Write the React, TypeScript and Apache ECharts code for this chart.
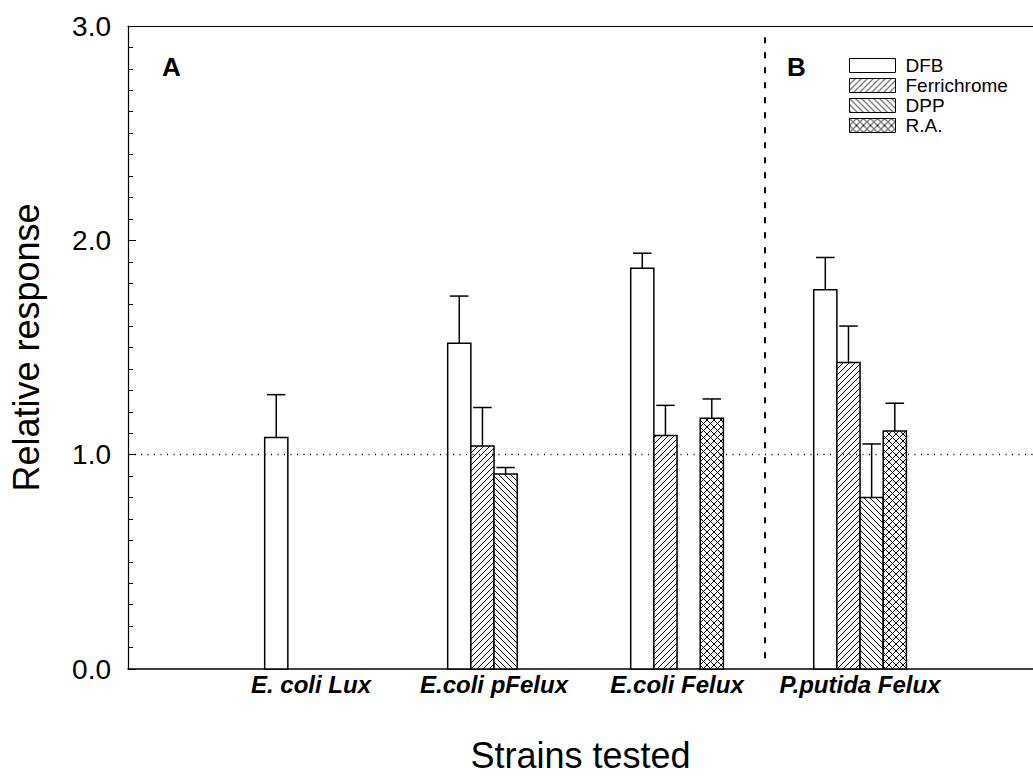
import React, { useEffect, useRef } from "react";
import * as echarts from "echarts";

const categories = ["E. coli Lux", "E.coli pFelux", "E.coli Felux", "P.putida Felux"];
const categoryPositions = [1, 2, 3, 4];
const seriesNames = ["DFB", "Ferrichrome", "DPP", "R.A."];

const dfbValues = [1.08, 1.52, 1.87, 1.77];
const dfbErrors = [0.2, 0.22, 0.07, 0.15];
const ferrichromeValues = [null, 1.04, 1.09, 1.43];
const ferrichromeErrors = [null, 0.18, 0.14, 0.17];
const dppValues = [null, 0.91, null, 0.8];
const dppErrors = [null, 0.03, null, 0.25];
const raValues = [null, null, 1.17, 1.11];
const raErrors = [null, null, 0.09, 0.13];

const yTicks = [0, 1, 2, 3];
const referenceLevel = 1.0;
const sectionDivider = 3.48;
const dividerRange = [0.05, 2.96];

const X_MAX = 4.945;
const BAR_UNIT = 0.1266;

function makePattern(kind: string) {
  const s = kind === "cross" ? 7 : 6;
  const c = document.createElement("canvas");
  c.width = s;
  c.height = s;
  const ctx = c.getContext("2d")!;
  ctx.fillStyle = "#fff";
  ctx.fillRect(0, 0, s, s);
  ctx.strokeStyle = "#000";
  ctx.lineWidth = 1;
  const fwd = () => {
    ctx.beginPath();
    ctx.moveTo(0, s);
    ctx.lineTo(s, 0);
    ctx.moveTo(-1, 1);
    ctx.lineTo(1, -1);
    ctx.moveTo(s - 1, s + 1);
    ctx.lineTo(s + 1, s - 1);
    ctx.stroke();
  };
  const back = () => {
    ctx.beginPath();
    ctx.moveTo(0, 0);
    ctx.lineTo(s, s);
    ctx.moveTo(-1, s - 1);
    ctx.lineTo(1, s + 1);
    ctx.moveTo(s - 1, -1);
    ctx.lineTo(s + 1, 1);
    ctx.stroke();
  };
  if (kind === "fwd") fwd();
  if (kind === "back") back();
  if (kind === "cross") {
    fwd();
    back();
  }
  return { image: c, repeat: "repeat" as const };
}

export default function App() {
  const ref = useRef<HTMLDivElement>(null);
  useEffect(() => {
    if (!ref.current) return;
    const chart = echarts.init(ref.current, undefined, { renderer: "svg" });
    const fills: any[] = ["#fff", makePattern("fwd"), makePattern("back"), makePattern("cross")];
    const valueSets = [dfbValues, ferrichromeValues, dppValues, raValues];
    const errorSets = [dfbErrors, ferrichromeErrors, dppErrors, raErrors];

    const series: any[] = seriesNames.map((name, slot) => {
      const data: any[] = [];
      valueSets[slot].forEach((v, i) => {
        if (v == null) return;
        data.push([categoryPositions[i], v, errorSets[slot][i] ?? 0, slot]);
      });
      const fill = fills[slot];
      return {
        name,
        type: "custom",
        coordinateSystem: "cartesian2d",
        itemStyle: { color: fill, borderColor: "#000", borderWidth: 1 },
        encode: { x: 0, y: 1 },
        data,
        renderItem: (params: any, api: any) => {
          const x = api.value(0);
          const v = api.value(1);
          const e = api.value(2);
          const sl = api.value(3);
          const base = api.coord([x, 0]);
          const top = api.coord([x, v]);
          const et = api.coord([x, v + e]);
          const bw = api.size([BAR_UNIT, 0])[0];
          const cx = base[0] + (sl - 1.5) * bw;
          const capW = bw * 0.8;
          return {
            type: "group",
            children: [
              {
                type: "rect",
                shape: { x: cx - bw / 2, y: top[1], width: bw, height: base[1] - top[1] },
                style: { fill, stroke: "#000", lineWidth: 1.5 },
              },
              {
                type: "line",
                shape: { x1: cx, y1: top[1], x2: cx, y2: et[1] },
                style: { stroke: "#000", lineWidth: 1.5 },
              },
              {
                type: "line",
                shape: { x1: cx - capW / 2, y1: et[1], x2: cx + capW / 2, y2: et[1] },
                style: { stroke: "#000", lineWidth: 1.5 },
              },
            ],
          };
        },
      };
    });

    series.push({
      name: "ref",
      type: "line",
      data: [],
      silent: true,
      markLine: {
        symbol: "none",
        silent: true,
        label: { show: false },
        data: [
          [
            { coord: [0, referenceLevel], lineStyle: { type: [1, 5.5], color: "#000", width: 1.3 } },
            { coord: [X_MAX, referenceLevel] },
          ],
          [
            { coord: [sectionDivider, dividerRange[0]], lineStyle: { type: [6, 9], color: "#000", width: 2 } },
            { coord: [sectionDivider, dividerRange[1]] },
          ],
        ],
      },
    });

    chart.setOption({
      animation: false,
      backgroundColor: "#fff",
      grid: { left: 127, right: 0, top: 26, bottom: 109 },
      legend: {
        data: seriesNames,
        orient: "vertical",
        left: 849,
        top: 56,
        padding: 0,
        itemWidth: 46,
        itemHeight: 14,
        itemGap: 1,
        icon: "rect",
        itemStyle: { borderColor: "#000", borderWidth: 1 },
        textStyle: { fontFamily: "Liberation Sans", fontSize: 19, color: "#000", padding: [0, 0, 0, 5] },
        selectedMode: false,
      },
      xAxis: [
        {
          type: "value",
          position: "bottom",
          min: 0,
          max: X_MAX,
          interval: 1,
          splitLine: { show: false },
          axisTick: { show: false },
          axisLine: { show: true, lineStyle: { color: "#000", width: 1.5 } },
          axisLabel: {
            showMaxLabel: false,
            margin: 3,
            fontFamily: "Liberation Sans",
            fontSize: 24,
            fontWeight: "bold",
            fontStyle: "italic",
            color: "#000",
            formatter: (v: number) => {
              const i = categoryPositions.indexOf(v);
              return i >= 0 ? categories[i] : "";
            },
          },
          name: "Strains tested",
          nameLocation: "middle",
          nameGap: 68,
          nameTextStyle: { fontFamily: "Liberation Sans", fontSize: 36, color: "#000" },
        },
        {
          type: "value",
          position: "top",
          min: 0,
          max: X_MAX,
          splitLine: { show: false },
          axisTick: { show: false },
          axisLabel: { show: false },
          axisLine: { show: true, lineStyle: { color: "#000", width: 1.2 } },
        },
      ],
      yAxis: {
        type: "value",
        min: yTicks[0],
        max: yTicks[yTicks.length - 1],
        interval: 1,
        splitLine: { show: false },
        axisLine: { show: true, lineStyle: { color: "#000", width: 1.2 } },
        axisTick: { show: true, inside: true, length: 8, lineStyle: { color: "#000" } },
        minorTick: { show: true, splitNumber: 10, length: 5, lineStyle: { color: "#000" } },
        axisLabel: {
          margin: 17,
          fontFamily: "Liberation Sans",
          fontSize: 28,
          color: "#000",
          formatter: (v: number) => v.toFixed(1),
        },
        name: "Relative response",
        nameLocation: "middle",
        nameGap: 84,
        nameTextStyle: { fontFamily: "Liberation Sans", fontSize: 36, color: "#000" },
      },
      graphic: [
        { type: "text", left: 162, top: 54, style: { text: "A", font: "bold 26px 'Liberation Sans'", fill: "#000" } },
        { type: "text", left: 787, top: 54, style: { text: "B", font: "bold 26px 'Liberation Sans'", fill: "#000" } },
      ],
      series,
    });
    return () => chart.dispose();
  }, []);
  return <div ref={ref} style={{ position: "absolute", left: 0, top: 0, width: 1033, height: 778 }} />;
}
